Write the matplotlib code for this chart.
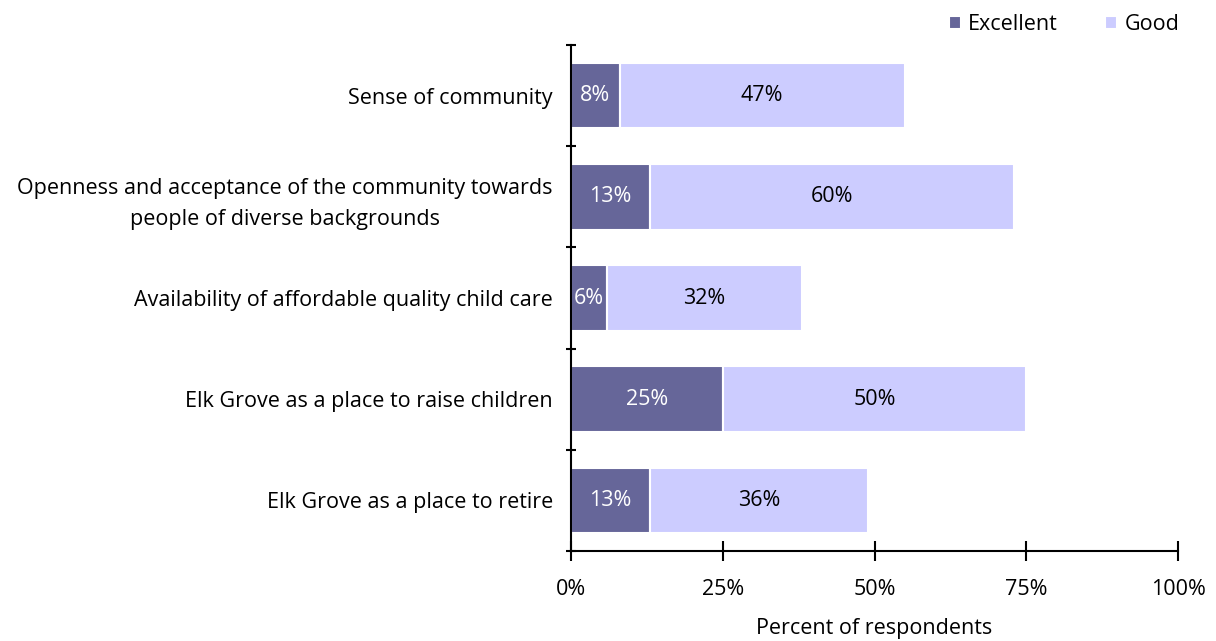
import matplotlib
matplotlib.use("Agg")
import matplotlib.pyplot as plt
import numpy as np

plt.rcParams['font.family'] = ['Open Sans', 'DejaVu Sans']

categories = [
    "Sense of community",
    "Openness and acceptance of the community towards\npeople of diverse backgrounds",
    "Availability of affordable quality child care",
    "Elk Grove as a place to raise children",
    "Elk Grove as a place to retire",
]
excellent = [8, 13, 6, 25, 13]
good = [47, 60, 32, 50, 36]
xticks = [0, 25, 50, 75, 100]
xticklabels = ["0%", "25%", "50%", "75%", "100%"]

c_exc = "#666699"
c_good = "#CCCCFF"
fs = 15.5

fig = plt.figure(figsize=(12.16, 6.41), dpi=100)
ax = fig.add_axes([0.4696, 0.1404, 0.4992, 0.7894])

y = np.arange(len(categories))
h = 0.65
b1 = ax.barh(y, excellent, height=h, color=c_exc, edgecolor="white", linewidth=1.5, label="Excellent")
b2 = ax.barh(y, good, left=excellent, height=h, color=c_good, edgecolor="white", linewidth=1.5, label="Good")

for yi, e, g in zip(y, excellent, good):
    ax.text(e / 2, yi, f"{e}%", ha="center", va="center", color="white", fontsize=fs)
    ax.text(e + g / 2, yi, f"{g}%", ha="center", va="center", color="black", fontsize=fs)

ax.set_xlim(0, 100)
ax.set_ylim(len(categories) - 0.5, -0.5)
ax.set_xticks(xticks)
ax.set_xticklabels(xticklabels, fontsize=fs)
ax.set_yticks(y)
ax.set_yticklabels(categories, fontsize=fs)
ax.set_yticks(np.arange(-0.5, len(categories) + 0.5, 1), minor=True)
ax.tick_params(axis="y", which="major", length=0, pad=13)
ax.tick_params(axis="y", which="minor", length=7, width=1.5, direction="inout")
ax.tick_params(axis="x", which="major", length=14, width=1.5, direction="inout", pad=13)
for lbl in ax.get_yticklabels():
    lbl.set_horizontalalignment("right")
    lbl.set_multialignment("center")
    lbl.set_linespacing(1.6)
ax.spines["top"].set_visible(False)
ax.spines["right"].set_visible(False)
ax.spines["left"].set_linewidth(1.5)
ax.spines["bottom"].set_linewidth(1.5)
ax.set_xlabel("Percent of respondents", fontsize=fs, labelpad=13)

leg = fig.legend(handles=[b1, b2], labels=["Excellent", "Good"], loc="upper right",
                 bbox_to_anchor=(0.986, 1.008), ncol=2, frameon=False, fontsize=fs,
                 handlelength=0.55, handleheight=0.55, handletextpad=0.35, columnspacing=2.2)

fig.savefig("out.png", dpi=100)
